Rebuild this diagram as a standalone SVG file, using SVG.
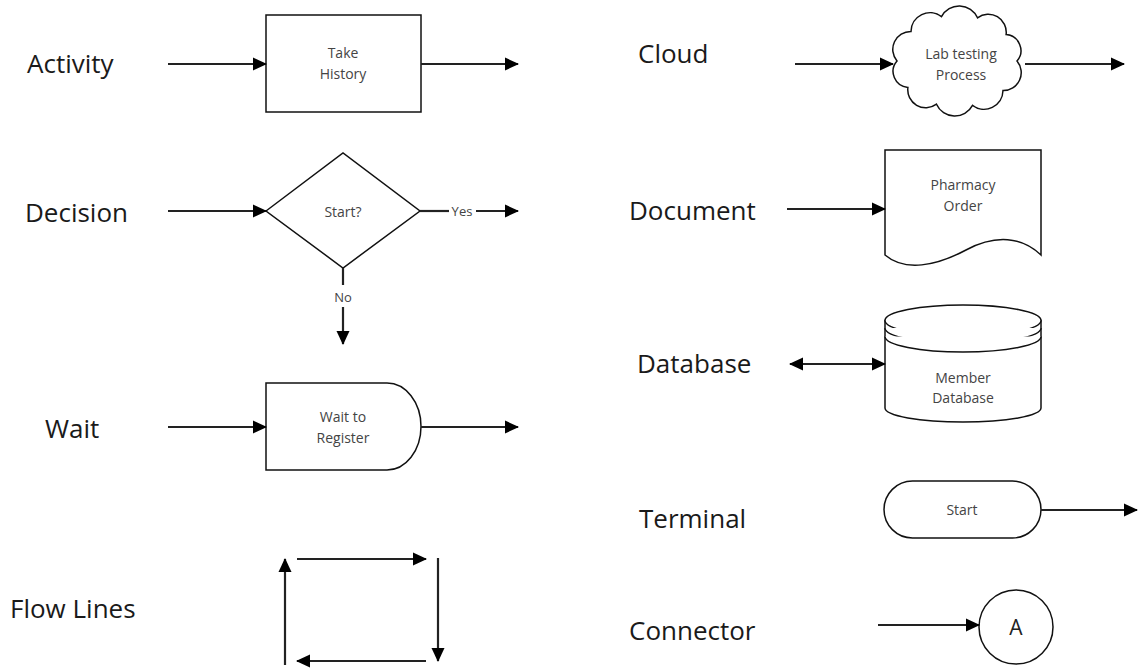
<svg xmlns="http://www.w3.org/2000/svg" width="1138" height="668" viewBox="0 0 1138 668">
<style>
.lbl{font-family:"Open Sans","Liberation Sans",sans-serif;font-size:26px;fill:#1a1a1a}
.txt{font-family:"Open Sans","Liberation Sans",sans-serif;font-size:14px;fill:#444;text-anchor:middle}
.shp{fill:#fff;stroke:#111;stroke-width:1.5}
.ln{fill:none;stroke:#222;stroke-width:2.2}
.arr{marker-end:url(#ah)}
</style>
<defs>
<marker id="ah" markerUnits="userSpaceOnUse" markerWidth="14" markerHeight="14" refX="13" refY="6.5" orient="auto-start-reverse" viewBox="0 0 14 13">
<path d="M0,0 L14,6.5 L0,13 z" fill="#000"/>
</marker>
</defs>
<rect width="1138" height="668" fill="#fff"/>

<g id="labels">
<text class="lbl" x="27" y="73">Activity</text>
<text class="lbl" x="25" y="222">Decision</text>
<text class="lbl" x="45" y="438">Wait</text>
<text class="lbl" x="10" y="618">Flow Lines</text>
<text class="lbl" x="638" y="63">Cloud</text>
<text class="lbl" x="629" y="220">Document</text>
<text class="lbl" x="637" y="373">Database</text>
<text class="lbl" x="639" y="528">Terminal</text>
<text class="lbl" x="629" y="640">Connector</text>
</g>

<g id="activity">
<rect class="shp" x="266" y="15" width="155" height="97"/>
<text class="txt" x="343" y="58">Take</text>
<text class="txt" x="343" y="79">History</text>
</g>

<g id="decision">
<path class="shp" d="M266,211 L343,153 L420,211 L343,268 Z"/>
<text class="txt" x="343" y="217">Start?</text>
</g>

<g id="wait">
<path class="shp" d="M266,383 H387 A34,43.5 0 0 1 387,470 H266 Z"/>
<text class="txt" x="343" y="422">Wait to</text>
<text class="txt" x="343" y="443">Register</text>
</g>

<g id="cloud">
<path class="shp" d="M897,61 A18,18 0 0 1 911,31.4 A19,19 0 0 1 941.5,16.6 A20,20 0 0 1 977.5,17.8 A18,18 0 0 1 1006.1,34.6 A16,16 0 0 1 1017,61 A18,18 0 0 1 1003,90.6 A19,19 0 0 1 972.5,105.4 A20,20 0 0 1 936.5,104.2 A18,18 0 0 1 907.9,87.4 A16,16 0 0 1 897,61 Z"/>
<text class="txt" x="961" y="59">Lab testing</text>
<text class="txt" x="961" y="80">Process</text>
</g>

<g id="document">
<path class="shp" d="M885,150 H1041 V255 C1022,237 996,234 966,250 C936,266 905,272 885,255 Z"/>
<text class="txt" x="963" y="190">Pharmacy</text>
<text class="txt" x="963" y="211">Order</text>
</g>

<g id="database">
<path class="shp" d="M885,320.5 V408 A78,14 0 0 0 1041,408 V320.5 Z"/>
<ellipse class="shp" cx="963" cy="320.5" rx="78" ry="15.5"/>
<path class="shp" fill="none" d="M885,328 A78,15.5 0 0 0 1041,328"/>
<path class="shp" fill="none" d="M885,336.5 A78,15.5 0 0 0 1041,336.5"/>
<text class="txt" x="963" y="383">Member</text>
<text class="txt" x="963" y="403">Database</text>
</g>

<g id="terminal">
<rect class="shp" x="884" y="481" width="157" height="57" rx="28.5"/>
<text class="txt" x="962" y="515">Start</text>
</g>

<g id="connector-node">
<circle class="shp" cx="1016" cy="627" r="37"/>
<text class="txt" x="1016" y="635" style="font-size:21px;fill:#222">A</text>
</g>

<g id="connectors">
<line class="ln arr" x1="168" y1="64" x2="266" y2="64"/>
<line class="ln arr" x1="421" y1="64" x2="518" y2="64"/>
<line class="ln arr" x1="168" y1="211" x2="266" y2="211"/>
<line class="ln" x1="420" y1="211" x2="449" y2="211"/>
<line class="ln arr" x1="476" y1="211" x2="518" y2="211"/>
<text class="txt" x="462" y="216" style="font-size:13px">Yes</text>
<line class="ln" x1="343" y1="268" x2="343" y2="285"/>
<text class="txt" x="343" y="302" style="font-size:13px">No</text>
<line class="ln arr" x1="343" y1="307" x2="343" y2="344"/>
<line class="ln arr" x1="168" y1="427" x2="266" y2="427"/>
<line class="ln arr" x1="421" y1="427" x2="518" y2="427"/>
<line class="ln arr" x1="297" y1="559" x2="426" y2="559"/>
<line class="ln arr" x1="438" y1="558" x2="438" y2="661"/>
<line class="ln arr" x1="426" y1="661" x2="297" y2="661"/>
<line class="ln arr" x1="285" y1="665" x2="285" y2="559"/>
<line class="ln arr" x1="795" y1="64" x2="893" y2="64"/>
<line class="ln arr" x1="1025" y1="64" x2="1124" y2="64"/>
<line class="ln arr" x1="787" y1="209" x2="885" y2="209"/>
<line class="ln arr" x1="790" y1="364" x2="885" y2="364" style="marker-start:url(#ah)"/>
<line class="ln arr" x1="1041" y1="510" x2="1137" y2="510"/>
<line class="ln arr" x1="878" y1="625" x2="979" y2="625"/>
</g>
</svg>
